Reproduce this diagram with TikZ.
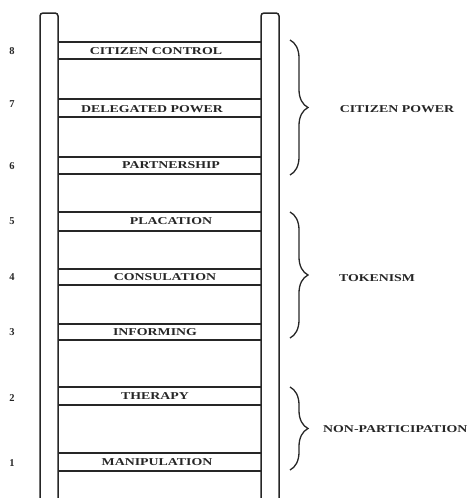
\documentclass[tikz,border=0pt]{standalone}
\usepackage{fontspec}
\setmainfont{Liberation Serif}
\usetikzlibrary{decorations.pathreplacing}
\newcommand{\widetxt}[1]{\scalebox{1.32}[1]{#1}}
\begin{document}
\begin{tikzpicture}[x=1pt,y=-1pt,
  rail/.style={line width=1.5pt,draw=black!85},
  rungline/.style={line width=1.4pt,draw=black!85},
  lbl/.style={font=\bfseries\fontsize{10.5}{12}\selectfont,inner sep=0pt,text=black!85},
  num/.style={font=\bfseries\fontsize{10.5}{12}\selectfont,inner sep=0pt,text=black!85},
  grp/.style={font=\bfseries\fontsize{10.5}{12}\selectfont,inner sep=0pt,text=black!85},
  bracestyle/.style={line width=1.3pt,draw=black!85,decorate,decoration={brace,amplitude=18pt,aspect=0.5}}]
\useasboundingbox (0,0) rectangle (476,498);
\begin{scope}
\clip (0,0) rectangle (476,498);
% rails
\draw[rail,rounded corners=3pt] (40,505) -- (40,13) -- (58,13) -- (58,505);
\draw[rail,rounded corners=3pt] (261,505) -- (261,13) -- (279,13) -- (279,505);
\end{scope}
% rungs
\foreach \a/\b in {42/59, 99/117, 157/174, 212/231, 269/285, 324/340, 387/405, 453/471}{
  \draw[rungline] (58,\a) -- (261,\a);
  \draw[rungline] (58,\b) -- (261,\b);
}
% rung labels
\node[lbl] (l8) at (156,51) {\widetxt{CITIZEN CONTROL}};
\node[lbl] (l7) at (152,109) {\widetxt{DELEGATED POWER}};
\node[lbl] (l6) at (171,165) {\widetxt{PARTNERSHIP}};
\node[lbl] (l5) at (171,221) {\widetxt{PLACATION}};
\node[lbl] (l4) at (165,277) {\widetxt{CONSULATION}};
\node[lbl] (l3) at (155,332) {\widetxt{INFORMING}};
\node[lbl] (l2) at (155,396) {\widetxt{THERAPY}};
\node[lbl] (l1) at (157,462) {\widetxt{MANIPULATION}};
% numbers
\node[num] (n8) at (12,51) {8};
\node[num] (n7) at (12,104) {7};
\node[num] (n6) at (12,166) {6};
\node[num] (n5) at (12,221) {5};
\node[num] (n4) at (12,277) {4};
\node[num] (n3) at (12,332) {3};
\node[num] (n2) at (12,398) {2};
\node[num] (n1) at (12,463) {1};
% braces
\draw[bracestyle] (290,40) -- (290,175);
\draw[bracestyle] (290,212) -- (290,338);
\draw[bracestyle] (290,387) -- (290,470);
% group labels
\node[grp] (g1) at (397,109) {\widetxt{CITIZEN POWER}};
\node[grp] (g2) at (377,278) {\widetxt{TOKENISM}};
\node[grp,anchor=west] (g3) at (323,429) {\widetxt{NON-PARTICIPATION}};
\end{tikzpicture}
\end{document}
